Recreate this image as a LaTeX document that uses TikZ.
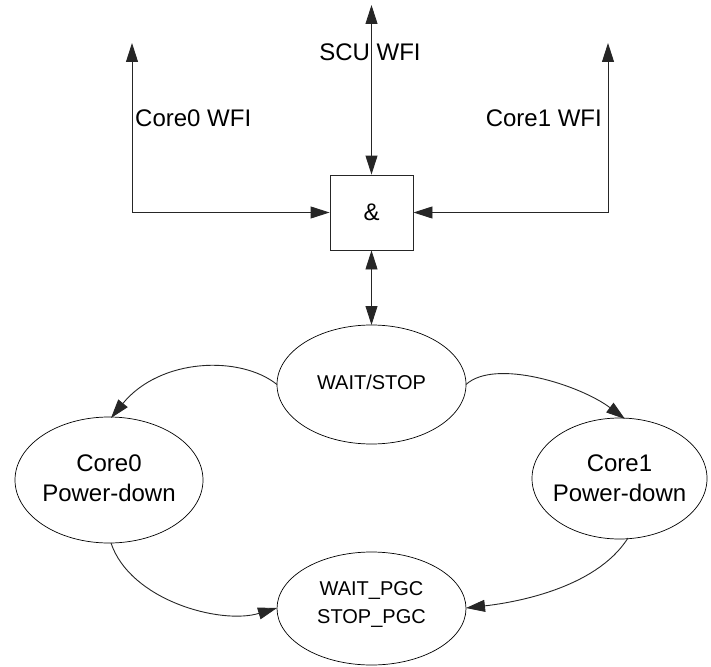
\documentclass[tikz,border=0pt]{standalone}
\usepackage{fontspec}
\setmainfont{Liberation Sans}
\usetikzlibrary{arrows.meta}
\begin{document}
\begin{tikzpicture}[x=1pt,y=-1pt,
  every node/.style={inner sep=0pt},
  conn/.style={draw=black!85,line width=0.9pt,-{Triangle[length=19pt,width=12pt]}},
  dconn/.style={draw=black!85,line width=0.9pt,{Triangle[length=19pt,width=12pt]}-{Triangle[length=19pt,width=12pt]}},
  state/.style={draw=black,line width=0.7pt,ellipse,minimum width=#1},
  bigtxt/.style={font=\fontsize{24}{30}\selectfont,align=center},
  smalltxt/.style={font=\fontsize{20}{28}\selectfont,align=center}]
\useasboundingbox (0,0) rectangle (711,666);
% & box
\node[draw=black!85,line width=0.9pt,minimum width=83pt,minimum height=75pt,font=\fontsize{24}{28}\selectfont] (amp) at (371.5,212.5) {\&};
% free ends
\coordinate (scu) at (371.5,5);
\coordinate (c0w) at (132,43);
\coordinate (c1w) at (608,43);
% top inputs
\draw[dconn] (scu) -- (amp.north);
\draw[dconn] (c0w) |- (amp.west);
\draw[dconn] (c1w) |- (amp.east);
\node[font=\fontsize{24}{28}\selectfont] (lscu) at (370,52) {SCU WFI};
\node[font=\fontsize{24}{28}\selectfont,anchor=west] (lc0) at (135,118) {Core0 WFI};
\node[font=\fontsize{24}{28}\selectfont,anchor=east] (lc1) at (602,118) {Core1 WFI};
% states
\draw[line width=0.7pt] (371.5,384.5) ellipse [x radius=94.5, y radius=59.5];
\node[smalltxt] (ws) at (371.5,382) {WAIT/STOP};
\coordinate (wsW) at (277,384.5);
\coordinate (wsE) at (466,384.5);
\coordinate (wsN) at (371.5,325);
\draw[line width=0.7pt] (109,480) ellipse [x radius=94, y radius=63];
\node[bigtxt] (c0) at (109,478) {Core0\\Power-down};
\coordinate (c0N) at (111,418);
\coordinate (c0S) at (111,543);
\draw[line width=0.7pt] (619.5,478.5) ellipse [x radius=87.5, y radius=60.5];
\node[bigtxt] (c1) at (619.5,478) {Core1\\Power-down};
\coordinate (c1N) at (625,419);
\coordinate (c1S) at (628,538);
\draw[line width=0.7pt] (371.5,608.5) ellipse [x radius=94.5, y radius=56.5];
\node[smalltxt] (wp) at (371.5,604) {WAIT\_PGC\\STOP\_PGC};
\coordinate (wpW) at (277,608);
\coordinate (wpE) at (466,608);
% connectors
\draw[dconn] (amp.south) -- (wsN);
\draw[conn] (wsW) .. controls (240,355) and (160,358) .. (c0N);
\draw[conn] (wsE) .. controls (495,358) and (580,385) .. (c1N);
\draw[conn] (c0S) .. controls (130,600) and (220,625) .. (wpW);
\draw[conn] (c1S) .. controls (595,590) and (510,603) .. (wpE);
\end{tikzpicture}
\end{document}
